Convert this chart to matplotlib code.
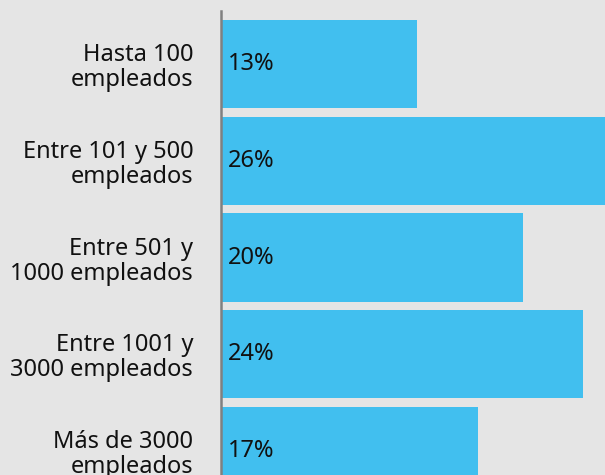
import matplotlib
matplotlib.use("Agg")
import matplotlib.pyplot as plt

categories = ["Hasta 100\nempleados", "Entre 101 y 500\nempleados", "Entre 501 y\n1000 empleados",
              "Entre 1001 y\n3000 empleados", "Más de 3000\nempleados"]
values = [13, 26, 20, 24, 17]
value_labels = ["13%", "26%", "20%", "24%", "17%"]

bg = "#e5e5e5"
bar_color = "#41bfef"

plt.rcParams["font.family"] = ["Noto Sans", "DejaVu Sans"]

fig = plt.figure(figsize=(6.05, 4.75), dpi=100, facecolor=bg)
ax = fig.add_axes([221 / 605, 0, 1 - 221 / 605, (475 - 11) / 475])
ax.set_facecolor(bg)

pos = list(range(len(values)))
ax.barh(pos, values, height=0.91, color=bar_color, zorder=1)
for p, lab in zip(pos, value_labels):
    ax.text(0.45, p, lab, va="center", ha="left", fontsize=17, color="#111111")

ax.set_xlim(0, 384 / 15.1)
ax.set_ylim(4.248, -0.548)
ax.set_yticks(pos)
ax.set_yticklabels(categories, fontsize=17, color="#111111", linespacing=1.06)
ax.tick_params(axis="y", length=0, pad=20)
ax.set_xticks([])
for s in ["top", "right", "bottom"]:
    ax.spines[s].set_visible(False)
ax.spines["left"].set_color("#808080")
ax.spines["left"].set_linewidth(1.8)
ax.spines["left"].set_zorder(3)

fig.savefig("out.png", dpi=100, facecolor=bg)
